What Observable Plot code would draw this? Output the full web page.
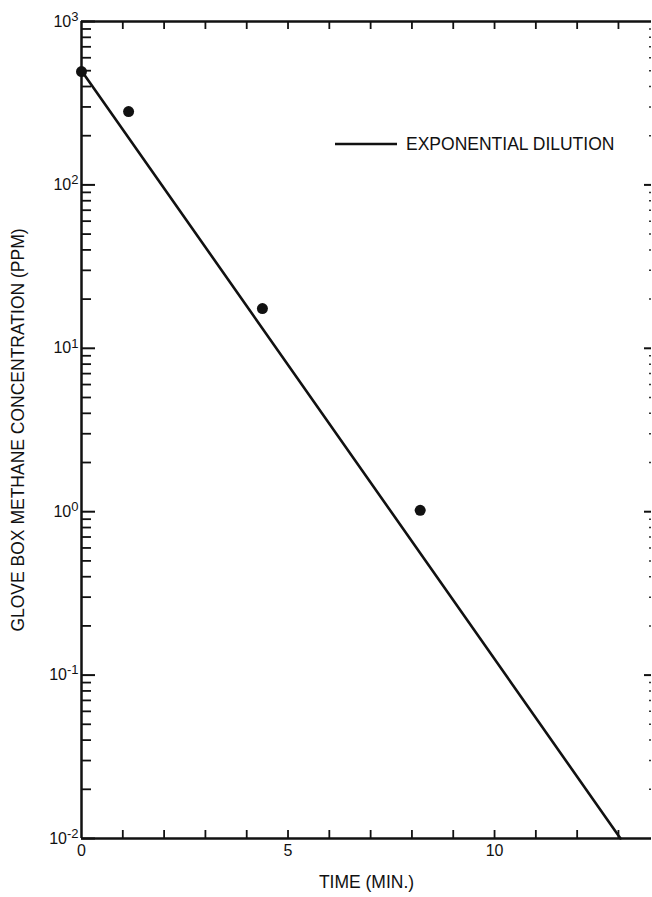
<!DOCTYPE html>
<html>
<head>
<meta charset="utf-8">
<script src="https://cdn.jsdelivr.net/npm/d3@7"></script>
<script src="https://cdn.jsdelivr.net/npm/@observablehq/plot@0.6"></script>
<style>
  html, body { margin: 0; padding: 0; background: #fff; }
  #chart { position: relative; width: 652px; height: 897px; font-family: "Liberation Sans", Arial, sans-serif; }
  #legend { position: absolute; left: 335px; top: 133px; display: flex; align-items: center; font-size: 17.5px; color: #111; line-height: 22px; }
  #legend svg { margin-right: 9px; }
</style>
</head>
<body>
<div id="chart"></div>
<script>
// ---- data ----
const measuredTime = [0, 1.14, 4.38, 8.2];          // minutes
const measuredPPM  = [494, 281, 17.5, 1.02];         // ppm
const fitTime = [0, 13.05];                          // exponential dilution line end points
const fitPPM  = [500, 0.01];
const xTicks = [0, 5, 10];
const xMinorTicks = [1,2,3,4,5,6,7,8,9,10,11,12,13];
const yDecades = [1000, 100, 10, 1, 0.1, 0.01];
const yExponents = ["3", "2", "1", "0", "-1", "-2"];
const legendLabel = "EXPONENTIAL DILUTION";
const xLabel = "TIME (MIN.)";
const yLabel = "GLOVE BOX METHANE CONCENTRATION (PPM)";

const points = measuredTime.map((t, i) => ({t, ppm: measuredPPM[i]}));
const fit = fitTime.map((t, i) => ({t, ppm: fitPPM[i]}));
const yMinor = [];
for (const d of yDecades.slice(1)) for (let k = 2; k <= 9; k++) yMinor.push(d * k);

const W = 652, H = 897, mL = 81, mR = 1, mT = 21, mB = 59;
const plotW = W - mL - mR, plotH = H - mT - mB;

const chart = Plot.plot({
  width: W, height: H,
  marginLeft: mL, marginRight: mR, marginTop: mT, marginBottom: mB,
  style: {fontFamily: "Liberation Sans, Arial, sans-serif", color: "#111", background: "#fff"},
  x: {domain: [0, 13.8]},
  y: {type: "log", domain: [0.01, 1000]},
  marks: [
    // frame: left, top, bottom
    Plot.ruleX([0], {stroke: "#111", strokeWidth: 2.5}),
    Plot.ruleY([0.01, 1000], {stroke: "#111", strokeWidth: 2.5}),
    // left ticks (inward)
    Plot.tickY(yDecades, {y: d => d, stroke: "#111", strokeWidth: 2, insetRight: plotW - 14}),
    Plot.tickY(yMinor, {y: d => d, stroke: "#111", strokeWidth: 1.8, insetRight: plotW - 10}),
    // right ticks (inward, faint)
    Plot.tickY(yDecades.slice(1, -1), {y: d => d, stroke: "#111", strokeWidth: 2, insetLeft: plotW - 7}),
    Plot.tickY(yMinor, {y: d => d, stroke: "#333", strokeWidth: 1.5, insetLeft: plotW - 2}),
    // top and bottom ticks
    Plot.tickX(xMinorTicks, {x: d => d, stroke: "#111", strokeWidth: 1.8, insetBottom: plotH - 8}),
    Plot.tickX(xMinorTicks, {x: d => d, stroke: "#111", strokeWidth: 1.8, insetTop: plotH - 8}),
    // fit line
    Plot.line(fit, {x: "t", y: "ppm", stroke: "#111", strokeWidth: 2.6}),
    // measured points
    Plot.dot(points, {x: "t", y: "ppm", r: 5.5, fill: "#111", stroke: "none"}),
    // axes
    Plot.axisX({ticks: xTicks, tickSize: 0, tickPadding: 6, fontSize: 16, label: null}),
    Plot.axisY({ticks: yDecades, tickSize: 0, tickPadding: 3, fontSize: 16, label: null,
                tickFormat: d => "10^" + yExponents[yDecades.indexOf(d)]}),
    Plot.text([xLabel], {frameAnchor: "bottom", dy: 49, fontSize: 17.5, text: d => d}),
    Plot.text([yLabel], {frameAnchor: "left", dx: -63, rotate: -90, textAnchor: "middle", fontSize: 17.5, text: d => d})
  ]
});

// superscripts on y tick labels
d3.select(chart).selectAll("g[aria-label='y-axis tick label'] text").each(function() {
  const s = d3.select(this);
  const txt = s.text();
  const [base, exp] = txt.split("^");
  s.text(null);
  s.append("tspan").text(base);
  s.append("tspan").attr("dy", "-0.45em").attr("font-size", 13).text(exp);
});

const root = document.getElementById("chart");
root.appendChild(chart);

const leg = document.createElement("div");
leg.id = "legend";
leg.innerHTML = `<svg width="62" height="4"><line x1="0" y1="2" x2="62" y2="2" stroke="#111" stroke-width="2.6"/></svg><span>${legendLabel}</span>`;
root.appendChild(leg);
</script>
</body>
</html>
